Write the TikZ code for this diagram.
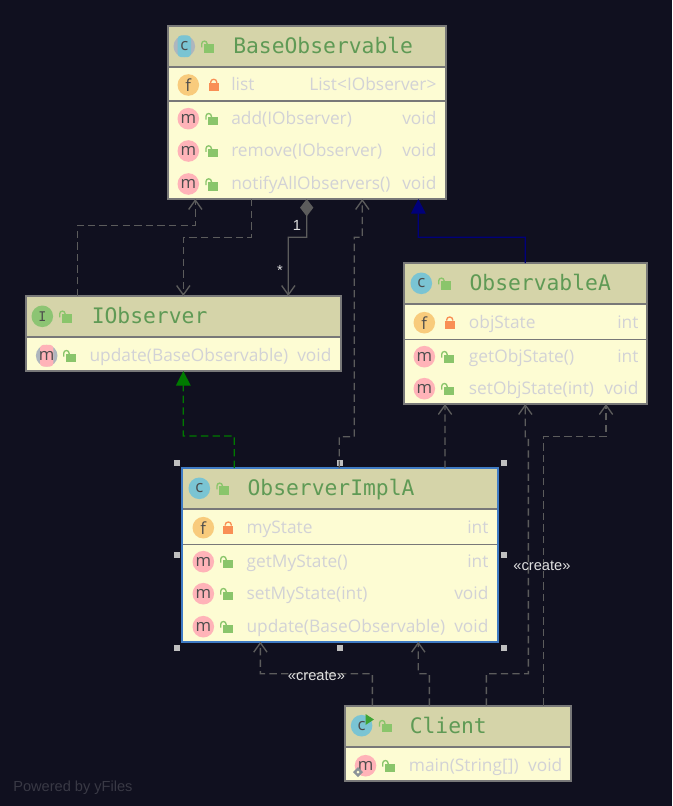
\documentclass[tikz,border=0pt]{standalone}
\usepackage{fontspec}
\usetikzlibrary{arrows.meta,calc}
\setmainfont{Open Sans}
\newfontfamily\rowfont{Open Sans}
\newfontfamily\titlefont{DejaVu Sans Mono}
\newfontfamily\labelfont{Liberation Sans}
\definecolor{bgc}{HTML}{10101F}
\definecolor{headc}{HTML}{D5D4A9}
\definecolor{bodyc}{HTML}{FDFCD3}
\definecolor{borderc}{HTML}{787878}
\definecolor{selc}{HTML}{3F7BC4}
\definecolor{titlec}{HTML}{5F9A55}
\definecolor{textc}{HTML}{D2D2D6}
\definecolor{linec}{HTML}{5C5C5C}
\definecolor{iconc}{HTML}{7AC4D3}
\definecolor{iconf}{HTML}{F8CB7C}
\definecolor{iconm}{HTML}{FFB3B8}
\definecolor{iconi}{HTML}{8CC473}
\definecolor{lockg}{HTML}{8AC56B}
\definecolor{locko}{HTML}{F98F55}
\definecolor{absgray}{HTML}{AEB6BE}
\definecolor{arrowg}{HTML}{007A00}
\definecolor{arrowb}{HTML}{00007A}
\definecolor{rung}{HTML}{3FA535}
\tikzset{
  x=0.75pt,y=-0.75pt,
  umlbody/.style={draw=borderc,line width=1.5pt,fill=bodyc,inner sep=0pt,outer sep=0pt},
  icontext/.style={text=black!70,inner sep=0pt,font=\rowfont\fontsize{12.5}{14}\selectfont},
  rowtext/.style={text=textc,inner sep=0pt,anchor=base west,font=\rowfont\fontsize{13}{15}\selectfont},
  rowtype/.style={text=textc,inner sep=0pt,anchor=base east,font=\rowfont\fontsize{13}{15}\selectfont},
  titletext/.style={text=titlec,inner sep=0pt,anchor=base west,font=\titlefont\fontsize{16}{18}\selectfont},
  lbl/.style={text=white!88!black,inner sep=0pt,font=\labelfont\fontsize{11}{13}\selectfont},
  dep/.style={draw=linec,line width=1pt,dash pattern=on 5.5pt off 3.2pt,-{Straight Barb[length=7pt,width=10pt]}},
  assoc/.style={draw=linec,line width=1pt,{Diamond[length=13pt,width=10pt,fill=linec]}-{Straight Barb[length=7pt,width=10pt]}},
  implarrow/.style={draw=arrowg,line width=1pt,dash pattern=on 5.5pt off 3.2pt,-{Triangle[length=11pt,width=11pt,fill=arrowg]}},
  extarrow/.style={draw=arrowb,line width=1pt,-{Triangle[length=11pt,width=11pt,fill=arrowb]}},
}
% name, left, top, right, bottom, header bottom, title, title x, title y
\newcommand\umlbox[9]{%
  \node[umlbody,minimum width={(#4-#2)*0.75pt},minimum height={(#5-#3)*0.75pt}] (#1) at ({(#2+#4)/2},{(#3+#5)/2}) {};
  \fill[headc] (#2,#3) rectangle (#4,#6);
  \draw[borderc,line width=1.5pt] (#2,#6) -- (#4,#6);
  \draw[borderc,line width=1.5pt] (#2,#3) rectangle (#4,#5);
  \node[titletext] (#1-title) at (#8,#9+7.5) {#7};
}
\newcommand\lockopen[2]{%
  \fill[lockg] (#1-4,#2-2) rectangle (#1+6,#2+6.5);
  \draw[lockg,line width=1pt] (#1-6.3,#2+1) -- (#1-6.3,#2-2.5) arc[start angle=180,end angle=360,x radius=2.7,y radius=2.7] -- (#1-0.9,#2-1);
}
\newcommand\lockclosed[2]{%
  \fill[locko] (#1-5,#2-2) rectangle (#1+5,#2+6.5);
  \draw[locko,line width=1pt] (#1-3,#2-2) -- (#1-3,#2-3) arc[start angle=180,end angle=360,x radius=3,y radius=2.7] -- (#1+3,#2-2);
}
% name, letter, colour, x, y
\newcommand\icon[5]{%
  \fill[#3] (#4,#5) circle[radius=10.8];
  \node[icontext] (#1) at (#4,#5) {#2};
}
% gray abstract icon
\newcommand\absicon[5]{%
  \fill[absgray] (#4,#5) circle[radius=10.8];
  \fill[#3,rounded corners=2.5pt] (#4-6.7,#5-10.8) rectangle (#4+6.7,#5+10.8);
  \node[icontext] (#1) at (#4,#5) {#2};
}
% name, y, unused, lock cmd, lock x, text x, text, right x, type
\newcommand\rowparts[9]{%
  #4{#5}{#2}%
  \node[rowtext] (#1-t) at (#6,#2+5.6) {#7};
  \node[rowtype] (#1-r) at (#8,#2+5.6) {#9};
}
\begin{document}
\begin{tikzpicture}
\useasboundingbox (0,0) rectangle (672,806);
\fill[bgc] (0,0) rectangle (672,806);

% Boxes
\umlbox{base}{168}{26}{445.5}{199}{67}{BaseObservable}{233}{46}
\umlbox{iobs}{25.7}{296}{340.7}{371}{337}{IObserver}{91.5}{316}
\umlbox{obsa}{404}{263}{646.7}{404}{304}{ObservableA}{469.3}{283}
\umlbox{impl}{182.3}{468}{497.7}{641.7}{509}{ObserverImplA}{247.3}{488}
\umlbox{client}{344.5}{705.7}{571.4}{780.7}{746.7}{Client}{409.5}{726}

\draw[borderc,line width=1pt] (168,101) -- (445.5,101);
\draw[borderc,line width=1pt] (404,339.7) -- (646.7,339.7);
\draw[borderc,line width=1pt] (182.3,544.7) -- (497.7,544.7);
\draw[selc,line width=1.5pt] (182.3,468) rectangle (497.7,641.7);

% BaseObservable
\absicon{base-i}{c}{iconc}{184.3}{46.3}
\lockopen{208}{46.3}
\icon{base-f}{f}{iconf}{188.3}{85}
\rowparts{base-r1}{85}{}{\lockclosed}{213.7}{231}{list}{436.7}{List<IObserver>}
\icon{base-m1}{m}{iconm}{188.3}{118.7}
\rowparts{base-r2}{118.7}{}{\lockopen}{212.3}{231}{add(IObserver)}{436.7}{void}
\icon{base-m2}{m}{iconm}{188.3}{151}
\rowparts{base-r3}{151}{}{\lockopen}{212.3}{231}{remove(IObserver)}{436.7}{void}
\icon{base-m3}{m}{iconm}{188.3}{184}
\rowparts{base-r4}{184}{}{\lockopen}{212.3}{231}{notifyAllObservers()}{436.7}{void}

% IObserver
\icon{iobs-i}{\titlefont\fontsize{10}{10}\selectfont I}{iconi}{42.3}{316.3}
\lockopen{66}{316.3}
\absicon{iobs-m}{m}{iconm}{46.7}{355.7}
\rowparts{iobs-r1}{355.7}{}{\lockopen}{70}{89.3}{update(BaseObservable)}{331.7}{void}

% ObservableA
\icon{obsa-i}{c}{iconc}{421.3}{283.3}
\lockopen{445}{283.3}
\icon{obsa-f}{f}{iconf}{424.3}{322.7}
\rowparts{obsa-r1}{322.7}{}{\lockclosed}{449.7}{468.7}{objState}{638.7}{int}
\icon{obsa-m1}{m}{iconm}{424.3}{356.7}
\rowparts{obsa-r2}{356.7}{}{\lockopen}{448}{468.7}{getObjState()}{638.7}{int}
\icon{obsa-m2}{m}{iconm}{424.3}{388.7}
\rowparts{obsa-r3}{388.7}{}{\lockopen}{448}{468.7}{setObjState(int)}{638.7}{void}

% ObserverImplA
\icon{impl-i}{c}{iconc}{199.3}{488.3}
\lockopen{223.3}{488.3}
\icon{impl-f}{f}{iconf}{203.3}{527.7}
\rowparts{impl-r1}{527.7}{}{\lockclosed}{228.3}{246.3}{myState}{488.7}{int}
\icon{impl-m1}{m}{iconm}{203.3}{561.7}
\rowparts{impl-r2}{561.7}{}{\lockopen}{227}{246.3}{getMyState()}{488.7}{int}
\icon{impl-m2}{m}{iconm}{203.3}{593.7}
\rowparts{impl-r3}{593.7}{}{\lockopen}{227}{246.3}{setMyState(int)}{488.7}{void}
\icon{impl-m3}{m}{iconm}{203.3}{626.7}
\rowparts{impl-r4}{626.7}{}{\lockopen}{227}{246.3}{update(BaseObservable)}{488.7}{void}

% Client
\icon{client-i}{c}{iconc}{361.6}{725.7}
\fill[rung] (365.5,714) -- (374,719.5) -- (365.5,725) -- cycle;
\lockopen{385.8}{725.7}
\icon{client-m}{m}{iconm}{365.5}{765.7}
\fill[absgray!80!black] (358,767) -- (363,772) -- (358,777) -- (353,772) -- cycle;
\fill[bodyc] (358,770.5) -- (359.5,772) -- (358,773.5) -- (356.5,772) -- cycle;
\rowparts{client-r1}{765.7}{}{\lockopen}{389}{408.7}{main(String[])}{562.6}{void}

% Selection handles
\foreach \hx in {177.3,340.3,503.7}
  \foreach \hy in {463,648.3}
    \fill[gray!50!white] (\hx-3,\hy-3) rectangle (\hx+3,\hy+3);
\foreach \hx in {177.3,503.7}
  \fill[gray!50!white] (\hx-3,555.3-3) rectangle (\hx+3,555.3+3);

% Connectors
\draw[dep] ($(iobs.north west)+(51.6,0)$) -- ++(0,-70.7) -- ++(118,0) -- ($(base.south west)+(27.3,0)$);
\draw[dep] ($(base.south west)+(83.3,0)$) -- ++(0,38.3) -- ++(-68,0) -- ($(iobs.north west)+(157.6,0)$);
\draw[assoc] ($(base.south west)+(138.7,0)$) -- ++(0,38.3) -- ++(-18.4,0) -- ($(iobs.north west)+(262.6,0)$);
\draw[extarrow] ($(obsa.north west)+(121.3,0)$) -- ++(0,-25.7) -- ++(-107,0) -- ($(base.south west)+(250.3,0)$);
\draw[dep] ($(impl.north west)+(157,0)$) -- ++(0,-31.3) -- ++(15,0) -- ++(0,-199.4) -- ++(8,0) -- ($(base.south west)+(194.3,0)$);
\draw[dep] ($(impl.north west)+(262.7,0)$) -- ($(obsa.south west)+(41,0)$);
\draw[implarrow] ($(impl.north west)+(52,0)$) -- ++(0,-32) -- ++(-51,0) -- ($(iobs.south west)+(157.6,0)$);
\draw[dep] ($(client.north west)+(27.9,0)$) -- ++(0,-32) -- ++(-112,0) -- ($(impl.south west)+(78.1,0)$);
\draw[dep] ($(client.north west)+(84.9,0)$) -- ++(0,-32) -- ++(-11.1,0) -- ($(impl.south west)+(236,0)$);
\draw[dep] ($(client.north west)+(141.9,0)$) -- ++(0,-32) -- ++(42,0) -- ++(0,-237) -- ++(-3.1,0) -- ($(obsa.south west)+(121.3,0)$);
\draw[dep] ($(client.north west)+(198.9,0)$) -- ++(0,-269) -- ++(62.6,0) -- ($(obsa.south west)+(202,0)$);

% Labels
\node[lbl] (one) at (297,225) {1};
\node[lbl] (star) at (280,270) {*};
\node[lbl] (create1) at (316.5,676) {«create»};
\node[lbl] (create2) at (542,566) {«create»};
\node[text=white!17!bgc,inner sep=0pt,anchor=base west,font=\labelfont\fontsize{10.95}{13}\selectfont] (powered) at (13,791) {Powered by yFiles};
\end{tikzpicture}
\end{document}
